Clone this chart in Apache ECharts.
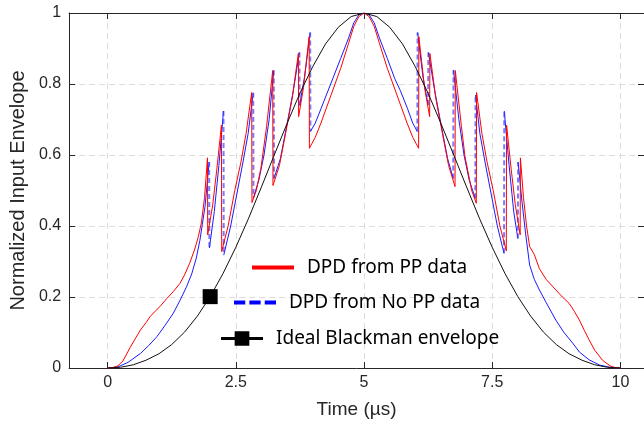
<!DOCTYPE html>
<html><head><meta charset="utf-8">
<script src="https://cdn.jsdelivr.net/npm/echarts@6/dist/echarts.min.js"></script>
<style>html,body{margin:0;padding:0;background:#fff}#c{width:644px;height:430px}</style>
</head><body><div id="c"></div>
<script>
// ---- data ----
const xTicks = [0, 2.5, 5, 7.5, 10];
const yTicks = [0, 0.2, 0.4, 0.6, 0.8, 1];
const seriesNames = ['DPD from PP data', 'DPD from No PP data', 'Ideal Blackman envelope'];
const xTitle = 'Time (\u00b5s)';
const yTitle = 'Normalized Input Envelope';

// DPD from PP data (red): [time, value]
const redPP = [
  [0.00,0.000],[0.10,0.001],[0.20,0.006],[0.30,0.020],[0.44,0.058],[0.55,0.085],[0.64,0.107],[0.75,0.128],
  [0.83,0.145],[0.93,0.160],[1.02,0.173],[1.15,0.195],[1.28,0.215],[1.41,0.238],[1.50,0.262],[1.60,0.295],
  [1.70,0.335],[1.77,0.370],[1.83,0.410],[1.89,0.480],[1.948,0.592],
  [1.952,0.375],[2.05,0.460],[2.13,0.560],[2.22,0.684],
  [2.225,0.328],[2.35,0.400],[2.48,0.500],[2.60,0.580],[2.70,0.660],[2.81,0.776],
  [2.815,0.466],[2.90,0.500],[2.99,0.563],[3.10,0.680],[3.22,0.838],
  [3.225,0.514],[3.35,0.570],[3.47,0.660],[3.60,0.760],[3.72,0.886],
  [3.725,0.708],[3.82,0.790],[3.93,0.933],
  [3.935,0.619],[4.05,0.650],[4.16,0.690],[4.35,0.766],[4.545,0.844],[4.70,0.915],[4.80,0.962],[4.90,0.990],
  [5.00,1.000],
  [5.10,0.990],[5.20,0.962],[5.30,0.915],[5.455,0.844],[5.65,0.766],[5.84,0.690],[5.95,0.650],[6.065,0.619],
  [6.07,0.933],[6.18,0.790],[6.28,0.708],
  [6.285,0.886],[6.40,0.760],[6.53,0.660],[6.65,0.570],[6.775,0.511],
  [6.78,0.838],[6.90,0.680],[6.97,0.595],[7.10,0.500],[7.19,0.464],
  [7.195,0.776],[7.30,0.660],[7.40,0.580],[7.52,0.500],[7.65,0.400],[7.775,0.330],
  [7.78,0.684],[7.87,0.560],[7.95,0.460],[8.045,0.375],
  [8.05,0.592],[8.11,0.480],[8.17,0.400],[8.23,0.342],[8.32,0.320],[8.42,0.280],[8.55,0.250],[8.74,0.220],
  [8.87,0.200],[9.00,0.182],[9.10,0.160],[9.20,0.135],[9.30,0.105],[9.39,0.079],[9.50,0.050],[9.65,0.022],
  [9.80,0.006],[9.90,0.001],[10.00,0.000]
];

// DPD from No PP data (blue): [time, value]
const blueNoPP = [
  [0.00,0.000],[0.20,0.003],[0.40,0.016],[0.64,0.041],[0.80,0.063],[0.96,0.088],[1.12,0.120],[1.28,0.154],
  [1.41,0.190],[1.54,0.229],[1.64,0.265],[1.73,0.310],[1.80,0.360],[1.90,0.455],[1.98,0.580],
  [1.985,0.338],[2.08,0.440],[2.17,0.570],[2.26,0.724],
  [2.265,0.318],[2.40,0.400],[2.52,0.490],[2.64,0.580],[2.74,0.660],[2.84,0.775],
  [2.845,0.480],[2.95,0.530],[3.05,0.600],[3.15,0.700],[3.24,0.838],
  [3.245,0.534],[3.37,0.590],[3.49,0.680],[3.62,0.780],[3.74,0.889],
  [3.745,0.740],[3.84,0.820],[3.95,0.945],
  [3.955,0.666],[4.05,0.690],[4.16,0.730],[4.35,0.800],[4.545,0.872],[4.70,0.930],[4.80,0.972],[4.90,0.995],
  [5.00,1.000],
  [5.10,0.995],[5.20,0.972],[5.30,0.930],[5.455,0.872],[5.60,0.815],[5.71,0.781],[5.85,0.730],[5.95,0.690],[6.04,0.666],
  [6.045,0.945],[6.15,0.820],[6.25,0.741],
  [6.255,0.889],[6.38,0.780],[6.51,0.680],[6.63,0.590],[6.74,0.534],
  [6.745,0.839],[6.85,0.700],[6.95,0.600],[7.05,0.530],[7.17,0.478],
  [7.175,0.769],[7.26,0.660],[7.36,0.580],[7.48,0.490],[7.60,0.400],[7.73,0.323],
  [7.735,0.724],[7.83,0.570],[7.92,0.440],[8.00,0.365],
  [8.005,0.580],[8.08,0.470],[8.15,0.380],[8.23,0.290],[8.32,0.250],[8.42,0.220],[8.55,0.185],[8.74,0.135],
  [8.90,0.100],[9.07,0.070],[9.20,0.045],[9.39,0.023],[9.60,0.008],[9.83,0.001],[10.00,0.000]
];

// Ideal Blackman envelope (black): [time, value]
const blackman = [
  [0.00,0.000],[0.25,0.002],[0.50,0.009],[0.75,0.022],[1.00,0.040],[1.25,0.066],[1.50,0.101],[1.75,0.146],
  [2.00,0.201],[2.25,0.266],[2.50,0.340],[2.75,0.422],[3.00,0.510],[3.25,0.600],[3.50,0.689],[3.75,0.774],
  [4.00,0.849],[4.25,0.913],[4.50,0.960],[4.75,0.990],[5.00,1.000],[5.25,0.990],[5.50,0.960],[5.75,0.913],
  [6.00,0.849],[6.25,0.774],[6.50,0.689],[6.75,0.600],[7.00,0.510],[7.25,0.422],[7.50,0.340],[7.75,0.266],
  [8.00,0.201],[8.25,0.146],[8.50,0.101],[8.75,0.066],[9.00,0.040],[9.25,0.022],[9.50,0.009],[9.75,0.002],
  [10.00,0.000]
];
const blackMarkerTime = 2.00;

// ---- build ----
function isJump(a, b) { return Math.abs(b[0] - a[0]) < 0.012 && Math.abs(b[1] - a[1]) > 0.05; }
const blueSolid = [], blueJumps = [];
for (let i = 0; i < blueNoPP.length; i++) {
  if (i > 0 && isJump(blueNoPP[i - 1], blueNoPP[i])) {
    blueSolid.push(['-', '-']);
    blueJumps.push(blueNoPP[i - 1], blueNoPP[i], ['-', '-']);
  }
  blueSolid.push(blueNoPP[i]);
}
const blackData = blackman.map(p => p[0] === blackMarkerTime ? {value: p, symbol: 'rect', symbolSize: 15} : p);

const FONT = 'Liberation Sans';
const axisColor = '#262626';
const gridDash = {color: '#dcdcdc', type: [6, 4], width: 1};
const boxLine = {show: true, onZero: false, lineStyle: {color: axisColor, width: 1}};
const inTick = {show: true, inside: true, length: 6, lineStyle: {color: axisColor}};

const legendBase = {
  orient: 'horizontal', padding: 0, itemWidth: 42, itemHeight: 16, itemGap: 0,
  symbolKeepAspect: true, selectedMode: false,
  textStyle: {fontFamily: 'Noto Sans', fontSize: 19, color: '#000', padding: [0, 0, 0, 8]}
};

const chart = echarts.init(document.getElementById('c'), null, {renderer: 'canvas'});
chart.setOption({
  animation: false,
  backgroundColor: '#fff',
  grid: {left: 67, top: 13, width: 578, height: 355, containLabel: false},
  xAxis: [{
    type: 'value', min: -0.75, max: 10.46, minInterval: 2.5, maxInterval: 2.5,
    name: xTitle, nameLocation: 'middle', nameGap: 32,
    nameTextStyle: {fontFamily: FONT, fontSize: 19, color: axisColor},
    axisLine: boxLine, axisTick: inTick,
    axisLabel: {fontFamily: FONT, fontSize: 16, color: axisColor, margin: 7, showMinLabel: false, showMaxLabel: false,
      formatter: v => xTicks.includes(+v.toFixed(3)) ? String(v) : ''},
    splitLine: {show: true, lineStyle: gridDash}
  }, {
    type: 'value', position: 'top', min: -0.75, max: 10.46, minInterval: 2.5, maxInterval: 2.5,
    axisLine: boxLine, axisTick: inTick,
    axisLabel: {show: false}, splitLine: {show: false}
  }],
  yAxis: [{
    type: 'value', min: yTicks[0], max: yTicks[yTicks.length - 1], interval: 0.2,
    name: yTitle, nameLocation: 'middle', nameGap: 40,
    nameTextStyle: {fontFamily: FONT, fontSize: 20, color: axisColor},
    axisLine: boxLine, axisTick: inTick,
    axisLabel: {fontFamily: FONT, fontSize: 16, color: axisColor, margin: 8, formatter: v => String(+v.toFixed(2))},
    splitLine: {show: true, lineStyle: gridDash}
  }, {
    type: 'value', position: 'right', min: yTicks[0], max: yTicks[yTicks.length - 1], interval: 0.2,
    axisLine: boxLine, axisTick: inTick,
    axisLabel: {show: false}, splitLine: {show: false}
  }],
  legend: [
    Object.assign({}, legendBase, {left: 252, top: 258,
      data: [{name: seriesNames[0], icon: 'path://M0,6H40V10H0Z'}]}),
    Object.assign({}, legendBase, {left: 234, top: 293,
      data: [{name: seriesNames[1], icon: 'path://M0,6H11V10H0Z M15,6H26V10H15Z M30,6H41V10H30Z'}]}),
    Object.assign({}, legendBase, {left: 221, top: 329,
      data: [{name: seriesNames[2], icon: 'path://M0,6.5H40V9.5H0Z M13,1H27V15H13Z'}]})
  ],
  series: [
    {name: seriesNames[1], type: 'line', data: blueSolid, symbol: 'none', connectNulls: false,
      lineStyle: {color: '#1a1aff', width: 1}, itemStyle: {color: '#0000ff'}, z: 2},
    {name: 'blueJumps', type: 'line', data: blueJumps, symbol: 'none', connectNulls: false,
      lineStyle: {color: '#3333ff', width: 2, type: [5, 3], opacity: 0.65}, z: 2, silent: true},
    {name: seriesNames[0], type: 'line', data: redPP, symbol: 'none',
      lineStyle: {color: '#ff0000', width: 1}, itemStyle: {color: '#ff0000'}, z: 3},
    {name: seriesNames[2], type: 'line', data: blackData, symbol: 'none', showSymbol: true,
      lineStyle: {color: '#111', width: 1}, itemStyle: {color: '#000'}, z: 4}
  ]
});
</script>
</body></html>
